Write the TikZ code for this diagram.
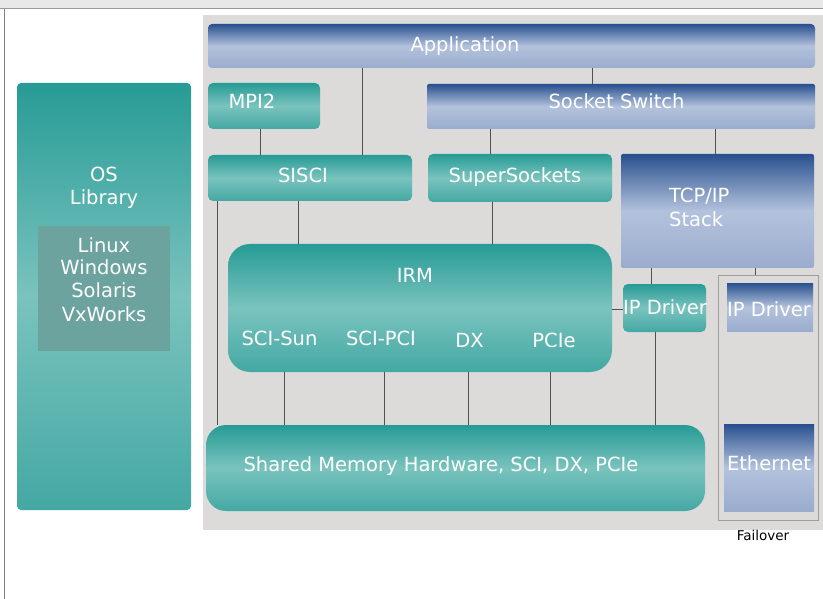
\documentclass[tikz,border=0pt]{standalone}
\usepackage{fontspec}
\setmainfont{DejaVu Sans}
\definecolor{tealA}{HTML}{279B95}
\definecolor{tealB}{HTML}{7AC3BE}
\definecolor{tealC}{HTML}{44A8A3}
\definecolor{blueA}{HTML}{28508F}
\definecolor{blueB}{HTML}{B3C2DC}
\definecolor{blueC}{HTML}{9AACCE}
\definecolor{panelgray}{HTML}{DCDBDA}
\definecolor{linegray}{HTML}{505050}
\definecolor{innergray}{HTML}{6CA39F}
\begin{document}
\begin{tikzpicture}[x=1pt,y=-1pt,
  box/.style={anchor=north west,inner sep=0pt,outer sep=0pt},
  tealbox/.style={box,top color=tealA,bottom color=tealC,middle color=tealB,rounded corners=5pt},
  bluebox/.style={box,top color=blueA,bottom color=blueC,middle color=blueB,rounded corners=2pt},
  lbl/.style={text=white,font=\fontsize{19.5}{23}\selectfont,inner sep=0pt,anchor=base},
  conn/.style={draw=linegray,line width=0.8pt}]
\useasboundingbox (0,0) rectangle (823,599);
% frame
\fill[white] (0,0) rectangle (823,599);
\fill[black!9] (0,0) rectangle (823,9);
\draw[black!40,line width=1pt] (0,9) -- (823,9);
\draw[black!50,line width=1.5pt] (4.5,9) -- (4.5,599);
% panel
\node[box,fill=panelgray,minimum width=620pt,minimum height=515pt] (panel) at (203,15) {};
% OS library
\node[tealbox,rounded corners=4pt,minimum width=174pt,minimum height=427pt] (os) at (17,83) {};
\node[box,fill=innergray,minimum width=132pt,minimum height=125pt] (osin) at (38,226) {};
\node[lbl] (ost1) at (104,182) {OS};
\node[lbl] (ost2) at (104,205) {Library};
\node[lbl] (osl1) at (104,252) {Linux};
\node[lbl] (osl2) at (104,275) {Windows};
\node[lbl] (osl3) at (104,298) {Solaris};
\node[lbl] (osl4) at (104,321) {VxWorks};
% boxes
\node[bluebox,rounded corners=4pt,minimum width=607pt,minimum height=44pt] (app) at (208,24) {};
\node[tealbox,minimum width=112pt,minimum height=46pt] (mpi) at (208,83) {};
\node[tealbox,minimum width=204pt,minimum height=46pt] (sisci) at (208,155) {};
\node[bluebox,minimum width=388pt,minimum height=45pt] (sock) at (427,84) {};
\node[tealbox,minimum width=184pt,minimum height=48pt] (ss) at (428,154) {};
\node[bluebox,minimum width=193pt,minimum height=114pt] (tcp) at (621,154) {};
\node[tealbox,rounded corners=22pt,minimum width=384pt,minimum height=128pt] (irm) at (228,244) {};
\node[tealbox,minimum width=83pt,minimum height=48pt] (ipd) at (623,284) {};
\node[box,draw=black!38,line width=0.8pt,minimum width=100pt,minimum height=245pt] (fail) at (718,275) {};
\node[bluebox,rounded corners=0pt,minimum width=86pt,minimum height=48pt] (ipd2) at (727,283) {};
\node[bluebox,rounded corners=0pt,minimum width=90pt,minimum height=87pt] (eth) at (724,424) {};
\node[tealbox,rounded corners=20pt,minimum width=499pt,minimum height=86pt] (shm) at (206,425) {};
% labels
\node[lbl] (appt) at (465,51.5) {Application};
\node[lbl] (mpit) at (252,109) {MPI2};
\node[lbl] (siscit) at (303,183) {SISCI};
\node[lbl] (sockt) at (616.5,109) {Socket Switch};
\node[lbl] (sst) at (515,183) {SuperSockets};
\node[lbl,anchor=base west] (tcpt1) at (669,203) {TCP/IP};
\node[lbl,anchor=base west] (tcpt2) at (669,226) {Stack};
\node[lbl] (irmt) at (415,283) {IRM};
\node[lbl] (sun) at (279.5,345) {SCI-Sun};
\node[lbl] (pci) at (381,345) {SCI-PCI};
\node[lbl] (dx) at (469.5,347) {DX};
\node[lbl] (pcie) at (554,347) {PCIe};
\node[lbl] (ipdt) at (665,314) {IP Driver};
\node[lbl] (ipd2t) at (769,316.5) {IP Driver};
\node[lbl] (etht) at (769,470) {Ethernet};
\node[lbl] (shmt) at (441,471) {Shared Memory Hardware, SCI, DX, PCIe};
\node[font=\fontsize{13.5}{15}\selectfont,inner sep=0pt,anchor=base] (failt) at (763,540) {Failover};
% connectors
\draw[conn] (362,0 |- app.south) -- (362,0 |- sisci.north);
\draw[conn] (592,0 |- app.south) -- (592,0 |- sock.north);
\draw[conn] (260,0 |- mpi.south) -- (260,0 |- sisci.north);
\draw[conn] (490,0 |- sock.south) -- (490,0 |- ss.north);
\draw[conn] (715,0 |- sock.south) -- (715,0 |- tcp.north);
\draw[conn] (298,0 |- sisci.south) -- (298,0 |- irm.north);
\draw[conn] (492,0 |- ss.south) -- (492,0 |- irm.north);
\draw[conn] (217,0 |- sisci.south) -- (217,0 |- shm.north);
\draw[conn] (651,0 |- tcp.south) -- (651,0 |- ipd.north);
\draw[conn] (755,0 |- tcp.south) -- (755,0 |- fail.north);
\draw[conn] (irm.east |- 0,309) -- (ipd.west |- 0,309);
\draw[conn] (284,0 |- irm.south) -- (284,0 |- shm.north);
\draw[conn] (384,0 |- irm.south) -- (384,0 |- shm.north);
\draw[conn] (468.5,0 |- irm.south) -- (468.5,0 |- shm.north);
\draw[conn] (550.5,0 |- irm.south) -- (550.5,0 |- shm.north);
\draw[conn] (655.5,0 |- ipd.south) -- (655.5,0 |- shm.north);
\end{tikzpicture}
\end{document}
